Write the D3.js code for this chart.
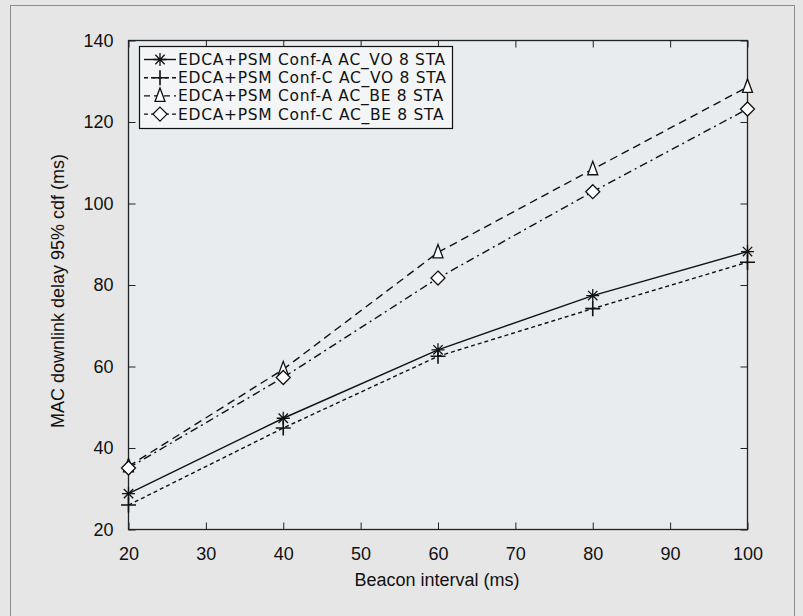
<!DOCTYPE html>
<html>
<head>
<meta charset="utf-8">
<script src="https://cdn.jsdelivr.net/npm/d3@7"></script>
<style>
  html, body { margin: 0; padding: 0; background: #e6e6e6; }
  svg { display: block; }
  text { font-family: "Liberation Sans", Arial, sans-serif; fill: #111; }
  text.legend { font-family: "DejaVu Sans", sans-serif; letter-spacing: 0.7px; }
</style>
</head>
<body>
<svg id="chart" width="803" height="616"></svg>
<script>
const beaconInterval = [20, 40, 60, 80, 100];
const confA_VO = [28.8, 47.3, 64.1, 77.4, 88.2];
const confC_VO = [26.0, 44.9, 62.5, 74.2, 85.6];
const confA_BE = [35.5, 59.3, 88.0, 108.4, 128.6];
const confC_BE = [35.1, 57.3, 81.7, 102.9, 123.2];
const seriesNames = [
  "EDCA+PSM Conf-A AC_VO 8 STA",
  "EDCA+PSM Conf-C AC_VO 8 STA",
  "EDCA+PSM Conf-A AC_BE 8 STA",
  "EDCA+PSM Conf-C AC_BE 8 STA"
];
const xTicks = [20, 30, 40, 50, 60, 70, 80, 90, 100];
const yTicks = [20, 40, 60, 80, 100, 120, 140];

const series = [
  { name: seriesNames[0], values: confA_VO, dash: null, legendDash: null, marker: "star" },
  { name: seriesNames[1], values: confC_VO, dash: "4,3", legendDash: "4,3", marker: "plus" },
  { name: seriesNames[2], values: confA_BE, dash: "8,5", legendDash: "6,4", marker: "triangle" },
  { name: seriesNames[3], values: confC_BE, dash: "8,4,2,4", legendDash: "4,3", marker: "diamond" }
];

const svg = d3.select("#chart");
const plot = { left: 128.5, right: 747.5, top: 40.5, bottom: 529.5 };

// outer frame
svg.append("rect").attr("x", 10.5).attr("y", 5.5).attr("width", 784).attr("height", 640)
  .attr("fill", "#e6e6e6").attr("stroke", "#8c8c8c").attr("stroke-width", 1);

const x = d3.scaleLinear().domain([20, 100]).range([plot.left, plot.right]);
const y = d3.scaleLinear().domain([20, 140]).range([plot.bottom, plot.top]);

// plot background
svg.append("rect").attr("x", plot.left).attr("y", plot.top)
  .attr("width", plot.right - plot.left).attr("height", plot.bottom - plot.top)
  .attr("fill", "#e8ecee");

const tickLen = 7;
const fontSize = 18;

function styleAxis(g) {
  g.select(".domain").remove();
  g.selectAll(".tick line").attr("stroke", "#222").attr("stroke-width", 1);
  g.selectAll(".tick text").style("font-size", fontSize + "px").attr("fill", "#111");
}

svg.append("g").attr("transform", `translate(0,${plot.bottom})`)
  .call(d3.axisBottom(x).tickValues(xTicks).tickFormat(d3.format("d")).tickSizeInner(-tickLen).tickSizeOuter(0).tickPadding(tickLen + 11))
  .call(styleAxis);
svg.append("g").attr("transform", `translate(0,${plot.top})`)
  .call(d3.axisTop(x).tickValues(xTicks).tickFormat("").tickSizeInner(-tickLen).tickSizeOuter(0))
  .call(styleAxis);
svg.append("g").attr("transform", `translate(${plot.left},0)`)
  .call(d3.axisLeft(y).tickValues(yTicks).tickFormat(d3.format("d")).tickSizeInner(-tickLen).tickSizeOuter(0).tickPadding(tickLen + 8))
  .call(styleAxis);
svg.append("g").attr("transform", `translate(${plot.right},0)`)
  .call(d3.axisRight(y).tickValues(yTicks).tickFormat("").tickSizeInner(-tickLen).tickSizeOuter(0))
  .call(styleAxis);

// plot border
svg.append("rect").attr("x", plot.left).attr("y", plot.top)
  .attr("width", plot.right - plot.left).attr("height", plot.bottom - plot.top)
  .attr("fill", "none").attr("stroke", "#222").attr("stroke-width", 1.3);

// axis titles
svg.append("text").attr("x", 437).attr("y", 586).attr("text-anchor", "middle")
  .style("font-size", fontSize + "px").text("Beacon interval (ms)");
svg.append("text").attr("transform", "translate(64,291) rotate(-90)").attr("text-anchor", "middle")
  .style("font-size", fontSize + "px").text("MAC downlink delay 95% cdf (ms)");

// markers
function drawMarker(g, type, cx, cy) {
  const s = 6.5;
  const m = g.append("g").attr("transform", `translate(${cx},${cy})`);
  if (type === "star") {
    const d = s * 0.72;
    m.append("path").attr("d", `M${-s},0H${s}M0,${-s}V${s}M${-d},${-d}L${d},${d}M${-d},${d}L${d},${-d}`)
      .attr("stroke", "#111").attr("stroke-width", 1.3).attr("fill", "none");
  } else if (type === "plus") {
    const p = 7.5;
    m.append("path").attr("d", `M${-p},0H${p}M0,${-p}V${p}`)
      .attr("stroke", "#111").attr("stroke-width", 1.6).attr("fill", "none");
  } else if (type === "triangle") {
    m.append("path").attr("d", `M0,-8L5,5.5L-5,5.5Z`)
      .attr("stroke", "#111").attr("stroke-width", 1.3).attr("fill", "#fff");
  } else if (type === "diamond") {
    m.append("path").attr("d", `M0,-7L7,0L0,7L-7,0Z`)
      .attr("stroke", "#111").attr("stroke-width", 1.3).attr("fill", "#fff");
  }
}

const line = d3.line().x((d, i) => x(beaconInterval[i])).y(d => y(d));
const gLines = svg.append("g");
series.forEach(s => {
  gLines.append("path").datum(s.values).attr("d", line)
    .attr("fill", "none").attr("stroke", "#111").attr("stroke-width", 1.4)
    .attr("stroke-dasharray", s.dash);
});
series.forEach(s => {
  s.values.forEach((v, i) => drawMarker(gLines, s.marker, x(beaconInterval[i]), y(v)));
});

// legend
const lg = svg.append("g");
lg.append("rect").attr("x", 139.5).attr("y", 46.5).attr("width", 313).attr("height", 82)
  .attr("fill", "#f3f5f6").attr("stroke", "#111").attr("stroke-width", 1.2);
const rowY = [59.5, 77.7, 95.9, 114.1];
series.forEach((s, i) => {
  const yy = rowY[i];
  lg.append("line").attr("x1", 144).attr("x2", 176).attr("y1", yy).attr("y2", yy)
    .attr("stroke", "#111").attr("stroke-width", 1.4).attr("stroke-dasharray", s.legendDash);
  drawMarker(lg, s.marker, 160, yy);
  lg.append("text").attr("class", "legend").attr("x", 178).attr("y", yy).attr("dy", "0.36em")
    .style("font-size", "15.5px").text(s.name);
});
</script>
</body>
</html>
